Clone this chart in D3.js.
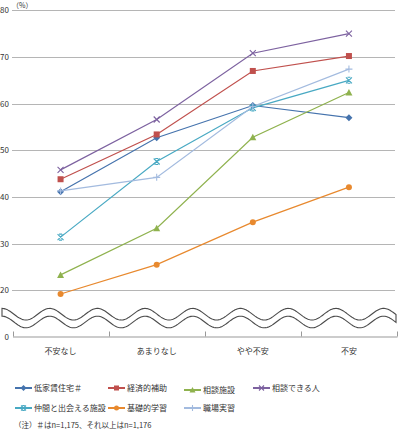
<!DOCTYPE html>
<head>
  <meta charset="UTF-8">
  <title>不安の程度別 必要な支援</title>
  <style>
  body, html, svg{
    padding: 0;
    margin: 0;
  }
  body{
    background: #fff;
  }
  text{
    font-family: "Noto Sans CJK JP", "Noto Sans", sans-serif;
    fill: #333;
  }
  </style>
</head>
<body>
  <script src="https://cdn.jsdelivr.net/npm/d3@7"></script>
  <script type="text/javascript">
  // カテゴリ・系列
  var categories = ['不安なし', 'あまりなし', 'やや不安', '不安'];
  var yTicks = [20, 30, 40, 50, 60, 70, 80];
  var seriesNames = ['低家賃住宅＃', '経済的補助', '相談施設', '相談できる人', '仲間と出会える施設', '基礎的学習', '職場実習'];
  var lowRent = [41.1, 52.7, 59.6, 57.0];
  var financial = [43.8, 53.4, 67.0, 70.2];
  var consultFacility = [23.3, 33.3, 52.8, 62.4];
  var consultPerson = [45.8, 56.6, 70.8, 75.0];
  var peerFacility = [31.4, 47.6, 59.1, 65.0];
  var basicLearning = [19.2, 25.5, 34.6, 42.1];
  var workPractice = [41.3, 44.2, 59.4, 67.4];
  var seriesValues = [lowRent, financial, consultFacility, consultPerson, peerFacility, basicLearning, workPractice];
  var colors = ['#4573ad', '#c0504d', '#8fb24e', '#7d62a0', '#48a9c3', '#e8892e', '#a3bbdf'];
  var markers = ['diamond', 'square', 'triangle', 'x', 'star', 'circle', 'plus'];
  var note = '（注）＃はn=1,175、それ以上はn=1,176';

  var width = 400, height = 429;
  var svg = d3.select('body').append('svg')
    .attr('width', width)
    .attr('height', height);

  var x = d3.scaleBand().domain(categories).range([12.5, 397]);
  var y = d3.scaleLinear().domain([20, 80]).range([290.3, 10.3]);
  var baseY = 336.5;

  // 目盛線
  svg.selectAll('.grid')
    .data(yTicks)
    .enter()
    .append('line')
    .attr('x1', 12).attr('x2', 395)
    .attr('y1', function(d) { return Math.round(y(d)) + 0.5; })
    .attr('y2', function(d) { return Math.round(y(d)) + 0.5; })
    .attr('stroke', '#b5b5b5')
    .attr('stroke-width', 1);

  svg.selectAll('.ylab')
    .data(yTicks)
    .enter()
    .append('text')
    .attr('x', 9)
    .attr('y', function(d) { return y(d) + 3; })
    .attr('text-anchor', 'end')
    .attr('font-size', 8)
    .text(function(d) { return d; });

  svg.append('text')
    .attr('x', 12).attr('y', 7.5)
    .attr('font-size', 7)
    .text('（%）');

  // 0の軸
  svg.append('text')
    .attr('x', 9).attr('y', baseY + 3)
    .attr('text-anchor', 'end')
    .attr('font-size', 8)
    .text('0');

  var xAxis = svg.append('g')
    .attr('transform', 'translate(0,' + baseY + ')')
    .call(d3.axisBottom(x).tickSize(0).tickFormat(''));
  xAxis.select('.domain').attr('stroke', '#999');

  var bounds = [12.5].concat(categories.map(function(c) { return x(c) + x.bandwidth(); }));
  svg.selectAll('.xtick')
    .data(bounds)
    .enter()
    .append('line')
    .attr('x1', function(d) { return Math.round(d) + 0.5; })
    .attr('x2', function(d) { return Math.round(d) + 0.5; })
    .attr('y1', baseY - 5).attr('y2', baseY)
    .attr('stroke', '#999');

  svg.selectAll('.xlab')
    .data(categories)
    .enter()
    .append('text')
    .attr('x', function(d) { return x(d) + x.bandwidth() / 2; })
    .attr('y', 354)
    .attr('text-anchor', 'middle')
    .attr('font-size', 8)
    .text(function(d) { return d; });

  // 波線（省略記号）
  var waveX0 = 2, waveX1 = 396, period = 47.7, amp = 5.8, waveTop = 314.2, gap = 7.8;
  var upper = d3.range(waveX0, waveX1 + 0.1, 1).map(function(px) {
    return [px, waveTop - amp * Math.cos((px - waveX0) / period * 2 * Math.PI)];
  });
  var lower = upper.map(function(p) { return [p[0], p[1] + gap]; }).reverse();
  svg.append('path')
    .attr('d', d3.line()(upper.concat(lower)) + 'Z')
    .attr('fill', '#fff')
    .attr('stroke', '#4a4a4a')
    .attr('stroke-width', 1.1);

  // マーカー
  function drawMarker(g, type, color, s) {
    var h = s / 2;
    if (type === 'diamond') {
      g.append('path').attr('d', 'M0,' + (-h - 0.5) + 'L' + (h + 0.5) + ',0L0,' + (h + 0.5) + 'L' + (-h - 0.5) + ',0Z')
        .attr('fill', color);
    } else if (type === 'square') {
      g.append('rect').attr('x', -h).attr('y', -h)
        .attr('width', s).attr('height', s).attr('fill', color);
    } else if (type === 'triangle') {
      g.append('path').attr('d', 'M0,' + (-h - 0.5) + 'L' + (h + 0.5) + ',' + h + 'L' + (-h - 0.5) + ',' + h + 'Z')
        .attr('fill', color);
    } else if (type === 'circle') {
      g.append('circle').attr('r', h).attr('fill', color);
    } else if (type === 'x') {
      g.append('path').attr('d', 'M' + -h + ',' + -h + 'L' + h + ',' + h + 'M' + h + ',' + -h + 'L' + -h + ',' + h)
        .attr('stroke', color).attr('stroke-width', 1.1).attr('fill', 'none');
    } else if (type === 'star') {
      g.append('path').attr('d', 'M' + -h + ',' + -h + 'L' + h + ',' + h + 'M' + h + ',' + -h + 'L' + -h + ',' + h +
        'M' + (-h / 2) + ',' + -h + 'L' + (h / 2) + ',' + -h + 'M' + (-h / 2) + ',' + h + 'L' + (h / 2) + ',' + h)
        .attr('stroke', color).attr('stroke-width', 1.1).attr('fill', 'none');
    } else if (type === 'plus') {
      var h3 = h + 0.5;
      g.append('path').attr('d', 'M' + -h3 + ',0L' + h3 + ',0M0,' + -h3 + 'L0,' + h3)
        .attr('stroke', color).attr('stroke-width', 1.1).attr('fill', 'none');
    }
  }

  var line = d3.line()
    .x(function(d, i) { return x(categories[i]) + x.bandwidth() / 2; })
    .y(function(d) { return y(d); });

  seriesValues.forEach(function(vals, k) {
    svg.append('path')
      .attr('d', line(vals))
      .attr('fill', 'none')
      .attr('stroke', colors[k])
      .attr('stroke-width', 1.2);
  });
  seriesValues.forEach(function(vals, k) {
    vals.forEach(function(v, i) {
      var g = svg.append('g')
        .attr('transform', 'translate(' + (x(categories[i]) + x.bandwidth() / 2) + ',' + y(v) + ')');
      drawMarker(g, markers[k], colors[k], 6);
    });
  });

  // 凡例
  var legendX = [15, 108, 184, 253];
  var legendY = [388, 408];
  seriesNames.forEach(function(name, k) {
    var lx = legendX[k % 4];
    var ly = legendY[Math.floor(k / 4)] + (k === 2 ? 2 : 0);
    var g = svg.append('g').attr('transform', 'translate(' + lx + ',' + ly + ')');
    g.append('line').attr('x1', 0).attr('x2', 17).attr('y1', 0).attr('y2', 0)
      .attr('stroke', colors[k]).attr('stroke-width', 2);
    var m = g.append('g').attr('transform', 'translate(8.5,0)');
    drawMarker(m, markers[k], colors[k], 5);
    g.append('text').attr('x', 19).attr('y', 3)
      .attr('font-size', 8)
      .text(name);
  });

  svg.append('text')
    .attr('x', 14).attr('y', 428)
    .attr('font-size', 7.5)
    .text(note);
  </script>
</body>
</html>
